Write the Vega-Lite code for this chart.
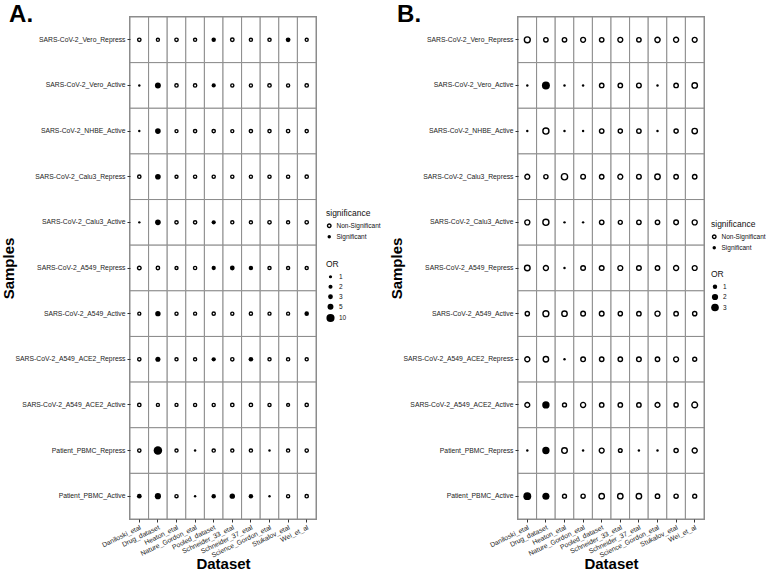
{
  "$schema": "https://vega.github.io/schema/vega-lite/v6.json",
  "padding": {"left": 0, "top": 1, "right": 0, "bottom": 0},
  "background": "white",
  "config": {
    "font": "Liberation Sans",
    "view": {"stroke": "#8c8c8c", "strokeWidth": 2},
    "axis": {"domain": false, "grid": false, "labelFontSize": 6.8, "labelColor": "#222", "tickColor": "#333", "tickSize": 3, "labelPadding": 2, "titleFontSize": 15, "titleFontWeight": "bold", "titleColor": "black"},
    "legend": {"titleFontSize": 8.5, "titleFontWeight": "normal", "titleColor": "#111", "labelFontSize": 6.5, "labelColor": "#111", "rowPadding": 3, "symbolStrokeColor": "black"},
    "title": {"fontSize": 24, "fontWeight": "bold", "anchor": "start", "frame": "bounds", "color": "black", "dx": 8}
  },
  "datasets": {
    "A": [
      {"sample":"SARS-CoV-2_Vero_Repress","dataset":"Daniloski_etal","OR":1.2,"significance":"Non-Significant"},
      {"sample":"SARS-CoV-2_Vero_Repress","dataset":"Drug_dataset","OR":0.8,"significance":"Non-Significant"},
      {"sample":"SARS-CoV-2_Vero_Repress","dataset":"Heaton_etal","OR":1.2,"significance":"Non-Significant"},
      {"sample":"SARS-CoV-2_Vero_Repress","dataset":"Nature_Gordon_etal","OR":0.9,"significance":"Non-Significant"},
      {"sample":"SARS-CoV-2_Vero_Repress","dataset":"Pooled_dataset","OR":2.5,"significance":"Significant"},
      {"sample":"SARS-CoV-2_Vero_Repress","dataset":"Schneider_33_etal","OR":1.3,"significance":"Non-Significant"},
      {"sample":"SARS-CoV-2_Vero_Repress","dataset":"Schneider_37_etal","OR":0.9,"significance":"Non-Significant"},
      {"sample":"SARS-CoV-2_Vero_Repress","dataset":"Science_Gordon_etal","OR":1.0,"significance":"Non-Significant"},
      {"sample":"SARS-CoV-2_Vero_Repress","dataset":"Stukalov_etal","OR":3.0,"significance":"Significant"},
      {"sample":"SARS-CoV-2_Vero_Repress","dataset":"Wei_et_al","OR":0.8,"significance":"Non-Significant"},
      {"sample":"SARS-CoV-2_Vero_Active","dataset":"Daniloski_etal","OR":0.3,"significance":"Significant"},
      {"sample":"SARS-CoV-2_Vero_Active","dataset":"Drug_dataset","OR":5.0,"significance":"Significant"},
      {"sample":"SARS-CoV-2_Vero_Active","dataset":"Heaton_etal","OR":1.1,"significance":"Non-Significant"},
      {"sample":"SARS-CoV-2_Vero_Active","dataset":"Nature_Gordon_etal","OR":1.1,"significance":"Non-Significant"},
      {"sample":"SARS-CoV-2_Vero_Active","dataset":"Pooled_dataset","OR":2.2,"significance":"Significant"},
      {"sample":"SARS-CoV-2_Vero_Active","dataset":"Schneider_33_etal","OR":0.9,"significance":"Non-Significant"},
      {"sample":"SARS-CoV-2_Vero_Active","dataset":"Schneider_37_etal","OR":0.9,"significance":"Non-Significant"},
      {"sample":"SARS-CoV-2_Vero_Active","dataset":"Science_Gordon_etal","OR":1.2,"significance":"Non-Significant"},
      {"sample":"SARS-CoV-2_Vero_Active","dataset":"Stukalov_etal","OR":0.9,"significance":"Non-Significant"},
      {"sample":"SARS-CoV-2_Vero_Active","dataset":"Wei_et_al","OR":1.2,"significance":"Non-Significant"},
      {"sample":"SARS-CoV-2_NHBE_Active","dataset":"Daniloski_etal","OR":0.3,"significance":"Significant"},
      {"sample":"SARS-CoV-2_NHBE_Active","dataset":"Drug_dataset","OR":4.5,"significance":"Significant"},
      {"sample":"SARS-CoV-2_NHBE_Active","dataset":"Heaton_etal","OR":0.8,"significance":"Non-Significant"},
      {"sample":"SARS-CoV-2_NHBE_Active","dataset":"Nature_Gordon_etal","OR":1.1,"significance":"Non-Significant"},
      {"sample":"SARS-CoV-2_NHBE_Active","dataset":"Pooled_dataset","OR":1.1,"significance":"Non-Significant"},
      {"sample":"SARS-CoV-2_NHBE_Active","dataset":"Schneider_33_etal","OR":0.8,"significance":"Non-Significant"},
      {"sample":"SARS-CoV-2_NHBE_Active","dataset":"Schneider_37_etal","OR":1.1,"significance":"Non-Significant"},
      {"sample":"SARS-CoV-2_NHBE_Active","dataset":"Science_Gordon_etal","OR":1.0,"significance":"Non-Significant"},
      {"sample":"SARS-CoV-2_NHBE_Active","dataset":"Stukalov_etal","OR":1.2,"significance":"Non-Significant"},
      {"sample":"SARS-CoV-2_NHBE_Active","dataset":"Wei_et_al","OR":1.0,"significance":"Non-Significant"},
      {"sample":"SARS-CoV-2_Calu3_Repress","dataset":"Daniloski_etal","OR":1.1,"significance":"Non-Significant"},
      {"sample":"SARS-CoV-2_Calu3_Repress","dataset":"Drug_dataset","OR":4.5,"significance":"Significant"},
      {"sample":"SARS-CoV-2_Calu3_Repress","dataset":"Heaton_etal","OR":0.8,"significance":"Non-Significant"},
      {"sample":"SARS-CoV-2_Calu3_Repress","dataset":"Nature_Gordon_etal","OR":1.0,"significance":"Non-Significant"},
      {"sample":"SARS-CoV-2_Calu3_Repress","dataset":"Pooled_dataset","OR":1.0,"significance":"Non-Significant"},
      {"sample":"SARS-CoV-2_Calu3_Repress","dataset":"Schneider_33_etal","OR":1.0,"significance":"Non-Significant"},
      {"sample":"SARS-CoV-2_Calu3_Repress","dataset":"Schneider_37_etal","OR":0.9,"significance":"Non-Significant"},
      {"sample":"SARS-CoV-2_Calu3_Repress","dataset":"Science_Gordon_etal","OR":1.0,"significance":"Non-Significant"},
      {"sample":"SARS-CoV-2_Calu3_Repress","dataset":"Stukalov_etal","OR":1.0,"significance":"Non-Significant"},
      {"sample":"SARS-CoV-2_Calu3_Repress","dataset":"Wei_et_al","OR":1.1,"significance":"Non-Significant"},
      {"sample":"SARS-CoV-2_Calu3_Active","dataset":"Daniloski_etal","OR":0.3,"significance":"Significant"},
      {"sample":"SARS-CoV-2_Calu3_Active","dataset":"Drug_dataset","OR":4.5,"significance":"Significant"},
      {"sample":"SARS-CoV-2_Calu3_Active","dataset":"Heaton_etal","OR":1.1,"significance":"Non-Significant"},
      {"sample":"SARS-CoV-2_Calu3_Active","dataset":"Nature_Gordon_etal","OR":1.1,"significance":"Non-Significant"},
      {"sample":"SARS-CoV-2_Calu3_Active","dataset":"Pooled_dataset","OR":2.2,"significance":"Significant"},
      {"sample":"SARS-CoV-2_Calu3_Active","dataset":"Schneider_33_etal","OR":0.9,"significance":"Non-Significant"},
      {"sample":"SARS-CoV-2_Calu3_Active","dataset":"Schneider_37_etal","OR":0.9,"significance":"Non-Significant"},
      {"sample":"SARS-CoV-2_Calu3_Active","dataset":"Science_Gordon_etal","OR":1.2,"significance":"Non-Significant"},
      {"sample":"SARS-CoV-2_Calu3_Active","dataset":"Stukalov_etal","OR":0.9,"significance":"Non-Significant"},
      {"sample":"SARS-CoV-2_Calu3_Active","dataset":"Wei_et_al","OR":1.2,"significance":"Non-Significant"},
      {"sample":"SARS-CoV-2_A549_Repress","dataset":"Daniloski_etal","OR":1.4,"significance":"Non-Significant"},
      {"sample":"SARS-CoV-2_A549_Repress","dataset":"Drug_dataset","OR":1.2,"significance":"Non-Significant"},
      {"sample":"SARS-CoV-2_A549_Repress","dataset":"Heaton_etal","OR":0.8,"significance":"Non-Significant"},
      {"sample":"SARS-CoV-2_A549_Repress","dataset":"Nature_Gordon_etal","OR":1.0,"significance":"Non-Significant"},
      {"sample":"SARS-CoV-2_A549_Repress","dataset":"Pooled_dataset","OR":2.3,"significance":"Significant"},
      {"sample":"SARS-CoV-2_A549_Repress","dataset":"Schneider_33_etal","OR":3.0,"significance":"Significant"},
      {"sample":"SARS-CoV-2_A549_Repress","dataset":"Schneider_37_etal","OR":2.5,"significance":"Significant"},
      {"sample":"SARS-CoV-2_A549_Repress","dataset":"Science_Gordon_etal","OR":0.9,"significance":"Non-Significant"},
      {"sample":"SARS-CoV-2_A549_Repress","dataset":"Stukalov_etal","OR":0.9,"significance":"Non-Significant"},
      {"sample":"SARS-CoV-2_A549_Repress","dataset":"Wei_et_al","OR":0.9,"significance":"Non-Significant"},
      {"sample":"SARS-CoV-2_A549_Active","dataset":"Daniloski_etal","OR":0.8,"significance":"Non-Significant"},
      {"sample":"SARS-CoV-2_A549_Active","dataset":"Drug_dataset","OR":4.0,"significance":"Significant"},
      {"sample":"SARS-CoV-2_A549_Active","dataset":"Heaton_etal","OR":0.9,"significance":"Non-Significant"},
      {"sample":"SARS-CoV-2_A549_Active","dataset":"Nature_Gordon_etal","OR":0.8,"significance":"Non-Significant"},
      {"sample":"SARS-CoV-2_A549_Active","dataset":"Pooled_dataset","OR":1.0,"significance":"Non-Significant"},
      {"sample":"SARS-CoV-2_A549_Active","dataset":"Schneider_33_etal","OR":0.9,"significance":"Non-Significant"},
      {"sample":"SARS-CoV-2_A549_Active","dataset":"Schneider_37_etal","OR":1.0,"significance":"Non-Significant"},
      {"sample":"SARS-CoV-2_A549_Active","dataset":"Science_Gordon_etal","OR":0.8,"significance":"Non-Significant"},
      {"sample":"SARS-CoV-2_A549_Active","dataset":"Stukalov_etal","OR":0.8,"significance":"Non-Significant"},
      {"sample":"SARS-CoV-2_A549_Active","dataset":"Wei_et_al","OR":2.7,"significance":"Significant"},
      {"sample":"SARS-CoV-2_A549_ACE2_Repress","dataset":"Daniloski_etal","OR":1.1,"significance":"Non-Significant"},
      {"sample":"SARS-CoV-2_A549_ACE2_Repress","dataset":"Drug_dataset","OR":3.5,"significance":"Significant"},
      {"sample":"SARS-CoV-2_A549_ACE2_Repress","dataset":"Heaton_etal","OR":0.9,"significance":"Non-Significant"},
      {"sample":"SARS-CoV-2_A549_ACE2_Repress","dataset":"Nature_Gordon_etal","OR":0.9,"significance":"Non-Significant"},
      {"sample":"SARS-CoV-2_A549_ACE2_Repress","dataset":"Pooled_dataset","OR":2.3,"significance":"Significant"},
      {"sample":"SARS-CoV-2_A549_ACE2_Repress","dataset":"Schneider_33_etal","OR":1.1,"significance":"Non-Significant"},
      {"sample":"SARS-CoV-2_A549_ACE2_Repress","dataset":"Schneider_37_etal","OR":2.8,"significance":"Significant"},
      {"sample":"SARS-CoV-2_A549_ACE2_Repress","dataset":"Science_Gordon_etal","OR":0.9,"significance":"Non-Significant"},
      {"sample":"SARS-CoV-2_A549_ACE2_Repress","dataset":"Stukalov_etal","OR":1.0,"significance":"Non-Significant"},
      {"sample":"SARS-CoV-2_A549_ACE2_Repress","dataset":"Wei_et_al","OR":0.9,"significance":"Non-Significant"},
      {"sample":"SARS-CoV-2_A549_ACE2_Active","dataset":"Daniloski_etal","OR":1.2,"significance":"Non-Significant"},
      {"sample":"SARS-CoV-2_A549_ACE2_Active","dataset":"Drug_dataset","OR":0.8,"significance":"Non-Significant"},
      {"sample":"SARS-CoV-2_A549_ACE2_Active","dataset":"Heaton_etal","OR":0.8,"significance":"Non-Significant"},
      {"sample":"SARS-CoV-2_A549_ACE2_Active","dataset":"Nature_Gordon_etal","OR":0.9,"significance":"Non-Significant"},
      {"sample":"SARS-CoV-2_A549_ACE2_Active","dataset":"Pooled_dataset","OR":0.9,"significance":"Non-Significant"},
      {"sample":"SARS-CoV-2_A549_ACE2_Active","dataset":"Schneider_33_etal","OR":1.2,"significance":"Non-Significant"},
      {"sample":"SARS-CoV-2_A549_ACE2_Active","dataset":"Schneider_37_etal","OR":1.2,"significance":"Non-Significant"},
      {"sample":"SARS-CoV-2_A549_ACE2_Active","dataset":"Science_Gordon_etal","OR":0.9,"significance":"Non-Significant"},
      {"sample":"SARS-CoV-2_A549_ACE2_Active","dataset":"Stukalov_etal","OR":0.7,"significance":"Non-Significant"},
      {"sample":"SARS-CoV-2_A549_ACE2_Active","dataset":"Wei_et_al","OR":1.1,"significance":"Non-Significant"},
      {"sample":"Patient_PBMC_Repress","dataset":"Daniloski_etal","OR":1.1,"significance":"Non-Significant"},
      {"sample":"Patient_PBMC_Repress","dataset":"Drug_dataset","OR":11.0,"significance":"Significant"},
      {"sample":"Patient_PBMC_Repress","dataset":"Heaton_etal","OR":0.9,"significance":"Non-Significant"},
      {"sample":"Patient_PBMC_Repress","dataset":"Nature_Gordon_etal","OR":0.3,"significance":"Significant"},
      {"sample":"Patient_PBMC_Repress","dataset":"Pooled_dataset","OR":1.0,"significance":"Non-Significant"},
      {"sample":"Patient_PBMC_Repress","dataset":"Schneider_33_etal","OR":0.9,"significance":"Non-Significant"},
      {"sample":"Patient_PBMC_Repress","dataset":"Schneider_37_etal","OR":1.0,"significance":"Non-Significant"},
      {"sample":"Patient_PBMC_Repress","dataset":"Science_Gordon_etal","OR":0.3,"significance":"Significant"},
      {"sample":"Patient_PBMC_Repress","dataset":"Stukalov_etal","OR":1.0,"significance":"Non-Significant"},
      {"sample":"Patient_PBMC_Repress","dataset":"Wei_et_al","OR":1.1,"significance":"Non-Significant"},
      {"sample":"Patient_PBMC_Active","dataset":"Daniloski_etal","OR":3.0,"significance":"Significant"},
      {"sample":"Patient_PBMC_Active","dataset":"Drug_dataset","OR":5.5,"significance":"Significant"},
      {"sample":"Patient_PBMC_Active","dataset":"Heaton_etal","OR":1.0,"significance":"Non-Significant"},
      {"sample":"Patient_PBMC_Active","dataset":"Nature_Gordon_etal","OR":0.3,"significance":"Significant"},
      {"sample":"Patient_PBMC_Active","dataset":"Pooled_dataset","OR":2.5,"significance":"Significant"},
      {"sample":"Patient_PBMC_Active","dataset":"Schneider_33_etal","OR":4.0,"significance":"Significant"},
      {"sample":"Patient_PBMC_Active","dataset":"Schneider_37_etal","OR":2.6,"significance":"Significant"},
      {"sample":"Patient_PBMC_Active","dataset":"Science_Gordon_etal","OR":0.3,"significance":"Significant"},
      {"sample":"Patient_PBMC_Active","dataset":"Stukalov_etal","OR":0.9,"significance":"Non-Significant"},
      {"sample":"Patient_PBMC_Active","dataset":"Wei_et_al","OR":1.1,"significance":"Non-Significant"}
    ],
    "B": [
      {"sample":"SARS-CoV-2_Vero_Repress","dataset":"Daniloski_etal","OR":1.8,"significance":"Non-Significant"},
      {"sample":"SARS-CoV-2_Vero_Repress","dataset":"Drug_dataset","OR":1.0,"significance":"Non-Significant"},
      {"sample":"SARS-CoV-2_Vero_Repress","dataset":"Heaton_etal","OR":1.0,"significance":"Non-Significant"},
      {"sample":"SARS-CoV-2_Vero_Repress","dataset":"Nature_Gordon_etal","OR":1.2,"significance":"Non-Significant"},
      {"sample":"SARS-CoV-2_Vero_Repress","dataset":"Pooled_dataset","OR":1.0,"significance":"Non-Significant"},
      {"sample":"SARS-CoV-2_Vero_Repress","dataset":"Schneider_33_etal","OR":1.2,"significance":"Non-Significant"},
      {"sample":"SARS-CoV-2_Vero_Repress","dataset":"Schneider_37_etal","OR":1.0,"significance":"Non-Significant"},
      {"sample":"SARS-CoV-2_Vero_Repress","dataset":"Science_Gordon_etal","OR":1.4,"significance":"Non-Significant"},
      {"sample":"SARS-CoV-2_Vero_Repress","dataset":"Stukalov_etal","OR":1.3,"significance":"Non-Significant"},
      {"sample":"SARS-CoV-2_Vero_Repress","dataset":"Wei_et_al","OR":1.2,"significance":"Non-Significant"},
      {"sample":"SARS-CoV-2_Vero_Active","dataset":"Daniloski_etal","OR":0.3,"significance":"Significant"},
      {"sample":"SARS-CoV-2_Vero_Active","dataset":"Drug_dataset","OR":3.3,"significance":"Significant"},
      {"sample":"SARS-CoV-2_Vero_Active","dataset":"Heaton_etal","OR":0.3,"significance":"Significant"},
      {"sample":"SARS-CoV-2_Vero_Active","dataset":"Nature_Gordon_etal","OR":0.3,"significance":"Significant"},
      {"sample":"SARS-CoV-2_Vero_Active","dataset":"Pooled_dataset","OR":1.0,"significance":"Non-Significant"},
      {"sample":"SARS-CoV-2_Vero_Active","dataset":"Schneider_33_etal","OR":1.0,"significance":"Non-Significant"},
      {"sample":"SARS-CoV-2_Vero_Active","dataset":"Schneider_37_etal","OR":1.1,"significance":"Non-Significant"},
      {"sample":"SARS-CoV-2_Vero_Active","dataset":"Science_Gordon_etal","OR":0.3,"significance":"Significant"},
      {"sample":"SARS-CoV-2_Vero_Active","dataset":"Stukalov_etal","OR":1.0,"significance":"Non-Significant"},
      {"sample":"SARS-CoV-2_Vero_Active","dataset":"Wei_et_al","OR":1.5,"significance":"Non-Significant"},
      {"sample":"SARS-CoV-2_NHBE_Active","dataset":"Daniloski_etal","OR":0.3,"significance":"Significant"},
      {"sample":"SARS-CoV-2_NHBE_Active","dataset":"Drug_dataset","OR":1.9,"significance":"Non-Significant"},
      {"sample":"SARS-CoV-2_NHBE_Active","dataset":"Heaton_etal","OR":0.3,"significance":"Significant"},
      {"sample":"SARS-CoV-2_NHBE_Active","dataset":"Nature_Gordon_etal","OR":0.3,"significance":"Significant"},
      {"sample":"SARS-CoV-2_NHBE_Active","dataset":"Pooled_dataset","OR":1.0,"significance":"Non-Significant"},
      {"sample":"SARS-CoV-2_NHBE_Active","dataset":"Schneider_33_etal","OR":0.9,"significance":"Non-Significant"},
      {"sample":"SARS-CoV-2_NHBE_Active","dataset":"Schneider_37_etal","OR":1.0,"significance":"Non-Significant"},
      {"sample":"SARS-CoV-2_NHBE_Active","dataset":"Science_Gordon_etal","OR":0.3,"significance":"Significant"},
      {"sample":"SARS-CoV-2_NHBE_Active","dataset":"Stukalov_etal","OR":0.9,"significance":"Non-Significant"},
      {"sample":"SARS-CoV-2_NHBE_Active","dataset":"Wei_et_al","OR":1.5,"significance":"Non-Significant"},
      {"sample":"SARS-CoV-2_Calu3_Repress","dataset":"Daniloski_etal","OR":1.2,"significance":"Non-Significant"},
      {"sample":"SARS-CoV-2_Calu3_Repress","dataset":"Drug_dataset","OR":0.9,"significance":"Non-Significant"},
      {"sample":"SARS-CoV-2_Calu3_Repress","dataset":"Heaton_etal","OR":2.0,"significance":"Non-Significant"},
      {"sample":"SARS-CoV-2_Calu3_Repress","dataset":"Nature_Gordon_etal","OR":1.1,"significance":"Non-Significant"},
      {"sample":"SARS-CoV-2_Calu3_Repress","dataset":"Pooled_dataset","OR":1.0,"significance":"Non-Significant"},
      {"sample":"SARS-CoV-2_Calu3_Repress","dataset":"Schneider_33_etal","OR":1.2,"significance":"Non-Significant"},
      {"sample":"SARS-CoV-2_Calu3_Repress","dataset":"Schneider_37_etal","OR":1.1,"significance":"Non-Significant"},
      {"sample":"SARS-CoV-2_Calu3_Repress","dataset":"Science_Gordon_etal","OR":1.5,"significance":"Non-Significant"},
      {"sample":"SARS-CoV-2_Calu3_Repress","dataset":"Stukalov_etal","OR":1.0,"significance":"Non-Significant"},
      {"sample":"SARS-CoV-2_Calu3_Repress","dataset":"Wei_et_al","OR":1.0,"significance":"Non-Significant"},
      {"sample":"SARS-CoV-2_Calu3_Active","dataset":"Daniloski_etal","OR":1.3,"significance":"Non-Significant"},
      {"sample":"SARS-CoV-2_Calu3_Active","dataset":"Drug_dataset","OR":1.9,"significance":"Non-Significant"},
      {"sample":"SARS-CoV-2_Calu3_Active","dataset":"Heaton_etal","OR":0.3,"significance":"Significant"},
      {"sample":"SARS-CoV-2_Calu3_Active","dataset":"Nature_Gordon_etal","OR":0.3,"significance":"Significant"},
      {"sample":"SARS-CoV-2_Calu3_Active","dataset":"Pooled_dataset","OR":1.0,"significance":"Non-Significant"},
      {"sample":"SARS-CoV-2_Calu3_Active","dataset":"Schneider_33_etal","OR":0.8,"significance":"Non-Significant"},
      {"sample":"SARS-CoV-2_Calu3_Active","dataset":"Schneider_37_etal","OR":1.0,"significance":"Non-Significant"},
      {"sample":"SARS-CoV-2_Calu3_Active","dataset":"Science_Gordon_etal","OR":1.0,"significance":"Non-Significant"},
      {"sample":"SARS-CoV-2_Calu3_Active","dataset":"Stukalov_etal","OR":1.1,"significance":"Non-Significant"},
      {"sample":"SARS-CoV-2_Calu3_Active","dataset":"Wei_et_al","OR":1.3,"significance":"Non-Significant"},
      {"sample":"SARS-CoV-2_A549_Repress","dataset":"Daniloski_etal","OR":1.6,"significance":"Non-Significant"},
      {"sample":"SARS-CoV-2_A549_Repress","dataset":"Drug_dataset","OR":1.3,"significance":"Non-Significant"},
      {"sample":"SARS-CoV-2_A549_Repress","dataset":"Heaton_etal","OR":0.3,"significance":"Significant"},
      {"sample":"SARS-CoV-2_A549_Repress","dataset":"Nature_Gordon_etal","OR":1.1,"significance":"Non-Significant"},
      {"sample":"SARS-CoV-2_A549_Repress","dataset":"Pooled_dataset","OR":1.1,"significance":"Non-Significant"},
      {"sample":"SARS-CoV-2_A549_Repress","dataset":"Schneider_33_etal","OR":1.2,"significance":"Non-Significant"},
      {"sample":"SARS-CoV-2_A549_Repress","dataset":"Schneider_37_etal","OR":1.1,"significance":"Non-Significant"},
      {"sample":"SARS-CoV-2_A549_Repress","dataset":"Science_Gordon_etal","OR":1.0,"significance":"Non-Significant"},
      {"sample":"SARS-CoV-2_A549_Repress","dataset":"Stukalov_etal","OR":1.3,"significance":"Non-Significant"},
      {"sample":"SARS-CoV-2_A549_Repress","dataset":"Wei_et_al","OR":1.2,"significance":"Non-Significant"},
      {"sample":"SARS-CoV-2_A549_Active","dataset":"Daniloski_etal","OR":0.9,"significance":"Non-Significant"},
      {"sample":"SARS-CoV-2_A549_Active","dataset":"Drug_dataset","OR":1.8,"significance":"Non-Significant"},
      {"sample":"SARS-CoV-2_A549_Active","dataset":"Heaton_etal","OR":1.5,"significance":"Non-Significant"},
      {"sample":"SARS-CoV-2_A549_Active","dataset":"Nature_Gordon_etal","OR":1.1,"significance":"Non-Significant"},
      {"sample":"SARS-CoV-2_A549_Active","dataset":"Pooled_dataset","OR":1.1,"significance":"Non-Significant"},
      {"sample":"SARS-CoV-2_A549_Active","dataset":"Schneider_33_etal","OR":0.9,"significance":"Non-Significant"},
      {"sample":"SARS-CoV-2_A549_Active","dataset":"Schneider_37_etal","OR":1.0,"significance":"Non-Significant"},
      {"sample":"SARS-CoV-2_A549_Active","dataset":"Science_Gordon_etal","OR":1.3,"significance":"Non-Significant"},
      {"sample":"SARS-CoV-2_A549_Active","dataset":"Stukalov_etal","OR":1.0,"significance":"Non-Significant"},
      {"sample":"SARS-CoV-2_A549_Active","dataset":"Wei_et_al","OR":0.9,"significance":"Non-Significant"},
      {"sample":"SARS-CoV-2_A549_ACE2_Repress","dataset":"Daniloski_etal","OR":1.3,"significance":"Non-Significant"},
      {"sample":"SARS-CoV-2_A549_ACE2_Repress","dataset":"Drug_dataset","OR":1.5,"significance":"Non-Significant"},
      {"sample":"SARS-CoV-2_A549_ACE2_Repress","dataset":"Heaton_etal","OR":0.3,"significance":"Significant"},
      {"sample":"SARS-CoV-2_A549_ACE2_Repress","dataset":"Nature_Gordon_etal","OR":1.1,"significance":"Non-Significant"},
      {"sample":"SARS-CoV-2_A549_ACE2_Repress","dataset":"Pooled_dataset","OR":1.0,"significance":"Non-Significant"},
      {"sample":"SARS-CoV-2_A549_ACE2_Repress","dataset":"Schneider_33_etal","OR":1.0,"significance":"Non-Significant"},
      {"sample":"SARS-CoV-2_A549_ACE2_Repress","dataset":"Schneider_37_etal","OR":1.1,"significance":"Non-Significant"},
      {"sample":"SARS-CoV-2_A549_ACE2_Repress","dataset":"Science_Gordon_etal","OR":1.0,"significance":"Non-Significant"},
      {"sample":"SARS-CoV-2_A549_ACE2_Repress","dataset":"Stukalov_etal","OR":1.2,"significance":"Non-Significant"},
      {"sample":"SARS-CoV-2_A549_ACE2_Repress","dataset":"Wei_et_al","OR":0.8,"significance":"Non-Significant"},
      {"sample":"SARS-CoV-2_A549_ACE2_Active","dataset":"Daniloski_etal","OR":1.2,"significance":"Non-Significant"},
      {"sample":"SARS-CoV-2_A549_ACE2_Active","dataset":"Drug_dataset","OR":2.8,"significance":"Significant"},
      {"sample":"SARS-CoV-2_A549_ACE2_Active","dataset":"Heaton_etal","OR":0.8,"significance":"Non-Significant"},
      {"sample":"SARS-CoV-2_A549_ACE2_Active","dataset":"Nature_Gordon_etal","OR":1.3,"significance":"Non-Significant"},
      {"sample":"SARS-CoV-2_A549_ACE2_Active","dataset":"Pooled_dataset","OR":1.0,"significance":"Non-Significant"},
      {"sample":"SARS-CoV-2_A549_ACE2_Active","dataset":"Schneider_33_etal","OR":1.0,"significance":"Non-Significant"},
      {"sample":"SARS-CoV-2_A549_ACE2_Active","dataset":"Schneider_37_etal","OR":1.0,"significance":"Non-Significant"},
      {"sample":"SARS-CoV-2_A549_ACE2_Active","dataset":"Science_Gordon_etal","OR":1.2,"significance":"Non-Significant"},
      {"sample":"SARS-CoV-2_A549_ACE2_Active","dataset":"Stukalov_etal","OR":0.9,"significance":"Non-Significant"},
      {"sample":"SARS-CoV-2_A549_ACE2_Active","dataset":"Wei_et_al","OR":1.7,"significance":"Non-Significant"},
      {"sample":"Patient_PBMC_Repress","dataset":"Daniloski_etal","OR":0.3,"significance":"Significant"},
      {"sample":"Patient_PBMC_Repress","dataset":"Drug_dataset","OR":2.8,"significance":"Significant"},
      {"sample":"Patient_PBMC_Repress","dataset":"Heaton_etal","OR":1.6,"significance":"Non-Significant"},
      {"sample":"Patient_PBMC_Repress","dataset":"Nature_Gordon_etal","OR":0.3,"significance":"Significant"},
      {"sample":"Patient_PBMC_Repress","dataset":"Pooled_dataset","OR":1.2,"significance":"Non-Significant"},
      {"sample":"Patient_PBMC_Repress","dataset":"Schneider_33_etal","OR":0.7,"significance":"Non-Significant"},
      {"sample":"Patient_PBMC_Repress","dataset":"Schneider_37_etal","OR":0.3,"significance":"Significant"},
      {"sample":"Patient_PBMC_Repress","dataset":"Science_Gordon_etal","OR":0.3,"significance":"Significant"},
      {"sample":"Patient_PBMC_Repress","dataset":"Stukalov_etal","OR":0.9,"significance":"Non-Significant"},
      {"sample":"Patient_PBMC_Repress","dataset":"Wei_et_al","OR":1.3,"significance":"Non-Significant"},
      {"sample":"Patient_PBMC_Active","dataset":"Daniloski_etal","OR":3.2,"significance":"Significant"},
      {"sample":"Patient_PBMC_Active","dataset":"Drug_dataset","OR":2.6,"significance":"Significant"},
      {"sample":"Patient_PBMC_Active","dataset":"Heaton_etal","OR":0.8,"significance":"Non-Significant"},
      {"sample":"Patient_PBMC_Active","dataset":"Nature_Gordon_etal","OR":0.9,"significance":"Non-Significant"},
      {"sample":"Patient_PBMC_Active","dataset":"Pooled_dataset","OR":1.5,"significance":"Non-Significant"},
      {"sample":"Patient_PBMC_Active","dataset":"Schneider_33_etal","OR":1.5,"significance":"Non-Significant"},
      {"sample":"Patient_PBMC_Active","dataset":"Schneider_37_etal","OR":1.5,"significance":"Non-Significant"},
      {"sample":"Patient_PBMC_Active","dataset":"Science_Gordon_etal","OR":1.0,"significance":"Non-Significant"},
      {"sample":"Patient_PBMC_Active","dataset":"Stukalov_etal","OR":0.9,"significance":"Non-Significant"},
      {"sample":"Patient_PBMC_Active","dataset":"Wei_et_al","OR":0.8,"significance":"Non-Significant"}
    ]
  },
  "hconcat": [
    {
      "title": {"text": "A.", "offset": -10},
      "width": 186,
      "height": 502,
      "data": {"name": "A"},
      "encoding": {
        "x": {"field": "dataset", "type": "nominal", "sort": ["Daniloski_etal","Drug_dataset","Heaton_etal","Nature_Gordon_etal","Pooled_dataset","Schneider_33_etal","Schneider_37_etal","Science_Gordon_etal","Stukalov_etal","Wei_et_al"], "scale": {"paddingInner": 0, "paddingOuter": 0}, "axis": {"title": "Dataset", "labelAngle": 334, "titlePadding": -2}},
        "y": {"field": "sample", "type": "nominal", "sort": ["SARS-CoV-2_Vero_Repress","SARS-CoV-2_Vero_Active","SARS-CoV-2_NHBE_Active","SARS-CoV-2_Calu3_Repress","SARS-CoV-2_Calu3_Active","SARS-CoV-2_A549_Repress","SARS-CoV-2_A549_Active","SARS-CoV-2_A549_ACE2_Repress","SARS-CoV-2_A549_ACE2_Active","Patient_PBMC_Repress","Patient_PBMC_Active"], "scale": {"paddingInner": 0, "paddingOuter": 0}, "axis": {"title": "Samples", "titlePadding": -1}}
      },
      "layer": [
        {"mark": {"type": "rect", "fill": "white", "stroke": "#8c8c8c", "strokeWidth": 1}},
        {
          "mark": {"type": "point", "shape": "circle", "filled": true, "stroke": "black", "opacity": 1},
          "encoding": {
            "fill": {"field": "significance", "type": "nominal", "scale": {"domain": ["Non-Significant", "Significant"], "range": ["white", "black"]}, "legend": {"title": "significance", "orient": "none", "legendX": 196, "legendY": 192, "symbolSize": 12}},
            "strokeWidth": {"field": "significance", "type": "nominal", "scale": {"domain": ["Non-Significant", "Significant"], "range": [1.4, 0]}},
            "size": {"field": "OR", "type": "quantitative", "scale": {"domain": [0.3, 11], "range": [6, 72], "zero": false}, "legend": {"title": "OR", "values": [1, 2, 3, 5, 10], "format": "d", "orient": "none", "legendX": 196, "legendY": 243, "symbolFillColor": "black", "symbolStrokeWidth": 0}}
          }
        }
      ]
    },
    {
      "title": {"text": "B.", "offset": -10},
      "width": 186,
      "height": 502,
      "data": {"name": "B"},
      "encoding": {
        "x": {"field": "dataset", "type": "nominal", "sort": ["Daniloski_etal","Drug_dataset","Heaton_etal","Nature_Gordon_etal","Pooled_dataset","Schneider_33_etal","Schneider_37_etal","Science_Gordon_etal","Stukalov_etal","Wei_et_al"], "scale": {"paddingInner": 0, "paddingOuter": 0}, "axis": {"title": "Dataset", "labelAngle": 334, "titlePadding": -2}},
        "y": {"field": "sample", "type": "nominal", "sort": ["SARS-CoV-2_Vero_Repress","SARS-CoV-2_Vero_Active","SARS-CoV-2_NHBE_Active","SARS-CoV-2_Calu3_Repress","SARS-CoV-2_Calu3_Active","SARS-CoV-2_A549_Repress","SARS-CoV-2_A549_Active","SARS-CoV-2_A549_ACE2_Repress","SARS-CoV-2_A549_ACE2_Active","Patient_PBMC_Repress","Patient_PBMC_Active"], "scale": {"paddingInner": 0, "paddingOuter": 0}, "axis": {"title": "Samples", "titlePadding": -1}}
      },
      "layer": [
        {"mark": {"type": "rect", "fill": "white", "stroke": "#8c8c8c", "strokeWidth": 1}},
        {
          "mark": {"type": "point", "shape": "circle", "filled": true, "stroke": "black", "opacity": 1},
          "encoding": {
            "fill": {"field": "significance", "type": "nominal", "scale": {"domain": ["Non-Significant", "Significant"], "range": ["white", "black"]}, "legend": {"title": "significance", "orient": "none", "legendX": 193, "legendY": 203, "symbolSize": 12}},
            "strokeWidth": {"field": "significance", "type": "nominal", "scale": {"domain": ["Non-Significant", "Significant"], "range": [1.4, 0]}},
            "size": {"field": "OR", "type": "quantitative", "scale": {"domain": [0.3, 3.3], "range": [6, 64], "zero": false}, "legend": {"title": "OR", "values": [1, 2, 3], "format": "d", "orient": "none", "legendX": 193, "legendY": 253, "symbolFillColor": "black", "symbolStrokeWidth": 0}}
          }
        }
      ]
    }
  ],
  "spacing": 6,
  "resolve": {"scale": {"fill": "independent", "size": "independent", "strokeWidth": "independent"}, "legend": {"fill": "independent", "size": "independent", "strokeWidth": "independent"}}
}
